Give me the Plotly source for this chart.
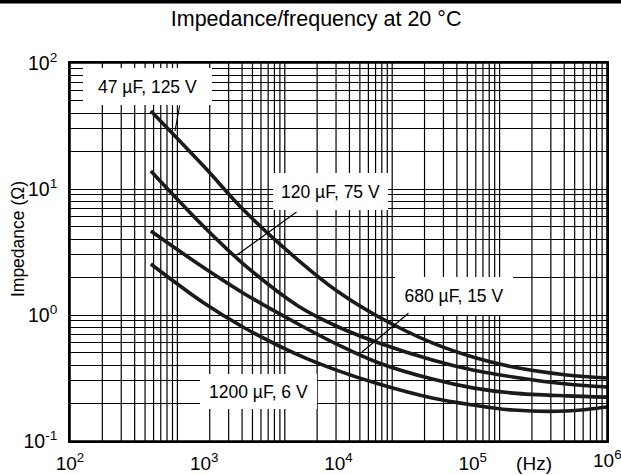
import math
import plotly.graph_objects as go

# ---- data ----
freq_hz = [400, 1000, 2000, 5000, 10000, 20000, 50000, 100000, 200000, 500000, 1000000]

z_47uF_125V = [41.6, 15.0, 6.68, 2.73, 1.52, 0.964, 0.600, 0.464, 0.386, 0.334, 0.316]
z_120uF_75V = [13.9, 4.99, 2.49, 1.18, 0.803, 0.600, 0.440, 0.366, 0.322, 0.283, 0.268]
z_680uF_15V = [4.64, 2.36, 1.47, 0.849, 0.578, 0.416, 0.310, 0.264, 0.240, 0.228, 0.223]
z_1200uF_6V = [2.54, 1.24, 0.789, 0.482, 0.360, 0.283, 0.219, 0.193, 0.176, 0.173, 0.186]

series_names = ["47 µF, 125 V", "120 µF, 75 V", "680 µF, 15 V", "1200 µF, 6 V"]
series_values = [z_47uF_125V, z_120uF_75V, z_680uF_15V, z_1200uF_6V]

x_tick_vals = [100, 1000, 10000, 100000, 286000, 1000000]
x_tick_text = ["10<sup>2</sup>", "10<sup>3</sup>", "10<sup>4</sup>", "10<sup>5</sup>", "(Hz)", "10<sup>6</sup>"]

y_decades = [0.1, 1, 10, 100]
y_decade_text = ["10<sup>-1</sup>", "10<sup>0</sup>", "10<sup>1</sup>", "10<sup>2</sup>"]

FONT = "Liberation Sans, Arial, Helvetica, sans-serif"

fig = go.Figure()
for name, vals in zip(series_names, series_values):
    fig.add_trace(go.Scatter(x=freq_hz, y=vals, mode="lines", name=name,
                             line=dict(color="#1a1a1a", width=3.6, shape="spline", smoothing=1.0),
                             showlegend=False, hoverinfo="x+y+name"))

# y grid: standard log grid
y_grid_vals = []
for d in y_decades[:-1]:
    for k in range(1, 10):
        y_grid_vals.append(round(k * d, 6))
y_grid_vals.append(y_decades[-1])
y_grid_text = [y_decade_text[y_decades.index(v)] if v in y_decades else "" for v in y_grid_vals]

# x background grid of the printed chart: a five-decade log grid spread over the plot width
grid_decades = 5
for d in range(grid_decades):
    for k in range(1, 10):
        pos = (d + math.log10(k)) / grid_decades
        if pos <= 0:
            continue
        fig.add_shape(type="line", xref="paper", yref="paper", x0=pos, x1=pos, y0=0, y1=1,
                      line=dict(color="black", width=1.2), layer="below")

# plot frame (right edge drawn explicitly as well)
fig.add_shape(type="rect", xref="paper", yref="paper", x0=0, x1=1, y0=0, y1=1,
              line=dict(color="black", width=1.6), layer="above")

axis_line = dict(showline=True, linecolor="black", linewidth=1.6, mirror=True)

fig.update_layout(
    width=621, height=475, autosize=False,
    margin=dict(l=70, r=14, t=63, b=34),
    paper_bgcolor="white", plot_bgcolor="white",
    font=dict(family=FONT, color="black", size=18),
    title=dict(text="Impedance/frequency at 20 °C", x=0.509, xanchor="center",
               y=0.961, yanchor="middle", font=dict(size=21.5, family=FONT, color="black")),
    xaxis=dict(type="log", range=[2, 6], showgrid=False, zeroline=False, automargin=False,
               tickmode="array", tickvals=x_tick_vals, ticktext=x_tick_text,
               ticks="", tickfont=dict(size=19), ticklabelstandoff=4, **axis_line),
    yaxis=dict(type="log", range=[-1, 2], showgrid=True, gridcolor="black", gridwidth=1.2,
               zeroline=False, automargin=False, tickmode="array", tickvals=y_grid_vals,
               ticktext=y_grid_text,
               ticks="", tickfont=dict(size=19.5), ticklabelstandoff=7, **axis_line),
)

# y axis title
fig.add_annotation(text="Impedance (Ω)", xref="paper", yref="paper", x=-0.097, y=0.534,
                   textangle=-90, showarrow=False, font=dict(size=17.5, family=FONT),
                   xanchor="center", yanchor="middle")

# label boxes
boxes = [
    ("47 µF, 125 V", 0.1443, 0.9378, 129, 37),
    ("120 µF, 75 V", 0.4851, 0.6601, 115, 37),
    ("680 µF, 15 V", 0.7151, 0.3836, 118, 38),
    ("1200 µF, 6 V", 0.3510, 0.1310, 117, 35),
]
for txt, bx, by, bw, bh in boxes:
    fig.add_annotation(text=txt, xref="paper", yref="paper", x=bx, y=by,
                       xanchor="center", yanchor="middle", showarrow=False,
                       width=bw, height=bh, bgcolor="white", borderpad=0, borderwidth=0,
                       font=dict(size=17.5, family=FONT, color="black"))

# pointer lines
pointers = [
    (0.1955, 0.8201, 5, -27),
    (0.3110, 0.4921, 61, -44),
    (0.5438, 0.2354, 48, -40),
]
for px, py, ax, ay in pointers:
    fig.add_annotation(text="", xref="paper", yref="paper", x=px, y=py, ax=ax, ay=ay,
                       showarrow=True, arrowhead=0, arrowwidth=1.1, arrowcolor="black",
                       standoff=0, startstandoff=0)

# top rule: a line shape plus a filled strip as a fallback
fig.add_shape(type="line", xref="paper", yref="paper", x0=-0.14, x1=1.03,
              y0=1.1619, y1=1.1619, line=dict(color="black", width=3.6), layer="above")
fig.add_annotation(text=" ", xref="paper", yref="paper", x=0.4479, y=1.1667,
                   xanchor="center", yanchor="top", showarrow=False,
                   width=621, height=3, bgcolor="black", borderpad=0, borderwidth=0,
                   font=dict(size=2, color="black"))

# right-edge 10^6 label kept inside the page
fig.add_annotation(text="10<sup>6</sup>", xref="paper", yref="paper", x=1.0, y=0,
                   xanchor="center", yanchor="top", yshift=-4, showarrow=False,
                   font=dict(size=19, family=FONT, color="black"))

page_fix = ("var s=document.createElement('style');"
            "s.innerHTML='html,body{margin:0!important;padding:0!important;overflow:hidden!important;}"
            ".main-svg{overflow:visible!important;}';"
            "document.head.appendChild(s);")

fig.write_html("out.html", config={"displayModeBar": False, "responsive": False},
               post_script=page_fix)
